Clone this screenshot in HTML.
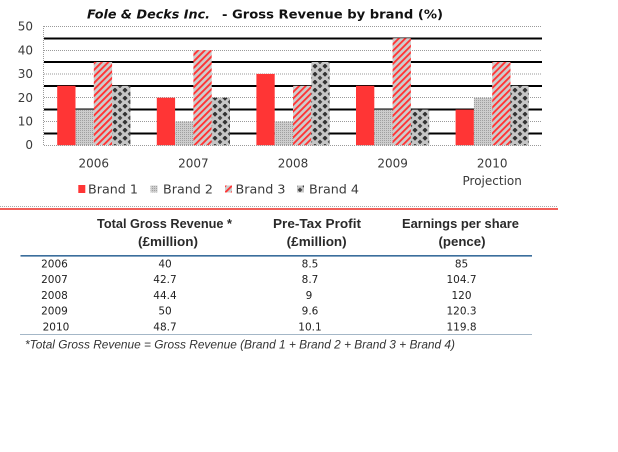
<!DOCTYPE html>
<html>
<head>
<meta charset="utf-8">
<style>
  html, body { margin:0; padding:0; background:#fff; }
  svg { display:block; }
  .tick { font-family:"DejaVu Sans","Liberation Sans",sans-serif; font-size:12px; fill:#3a3a3a; }
  .data { font-family:"DejaVu Sans","Liberation Sans",sans-serif; font-size:10.5px; fill:#222; }
  .hdr { font-family:"Liberation Sans",sans-serif; font-size:12.5px; font-weight:bold; fill:#2a2a2a; }
  .foot { font-family:"Liberation Sans",sans-serif; font-size:12px; font-style:italic; fill:#333; }
  .title { font-family:"DejaVu Sans","Liberation Sans",sans-serif; font-size:12px; font-weight:bold; fill:#111; }
</style>
</head>
<body>
<svg width="618" height="452" viewBox="0 0 618 452" xmlns="http://www.w3.org/2000/svg">
  <defs>
    <pattern id="p2" width="2" height="2" patternUnits="userSpaceOnUse">
      <rect width="2" height="2" fill="#cdcdcd"/>
      <rect width="1" height="1" fill="#a0a0a0"/>
    </pattern>
    <pattern id="p3" width="4.6" height="6" patternUnits="userSpaceOnUse" patternTransform="rotate(45)">
      <rect width="4.6" height="6" fill="#cdcdcd"/>
      <rect width="1.9" height="6" fill="#ff3535"/>
    </pattern>
    <pattern id="p4" width="10" height="8" patternUnits="userSpaceOnUse" x="1">
      <rect width="10" height="8" fill="#c6c6c6"/>
      <polygon points="4,-0.5 6.6,2.1 4,4.7 1.4,2.1" fill="#333"/>
      <polygon points="9,3.5 11.4,5.9 9,8.3 6.6,5.9" fill="#444"/>
      <polygon points="-1,3.5 1.4,5.9 -1,8.3 -3.4,5.9" fill="#444"/>
    </pattern>
  </defs>

  <!-- Title -->
  <text class="title" x="87" y="18.5" font-style="italic" textLength="123" lengthAdjust="spacingAndGlyphs">Fole &amp; Decks Inc.</text>
  <text class="title" x="222" y="18.5" textLength="221" lengthAdjust="spacingAndGlyphs">- Gross Revenue by brand (%)</text>

  <!-- thin dotted gridlines -->
  <g stroke="#9a9a9a" stroke-width="1" stroke-dasharray="1 1">
    <line x1="44" y1="26.5" x2="542" y2="26.5"/>
    <line x1="44" y1="50.5" x2="542" y2="50.5"/>
    <line x1="44" y1="74" x2="542" y2="74"/>
    <line x1="44" y1="97.5" x2="542" y2="97.5"/>
    <line x1="44" y1="121.5" x2="542" y2="121.5"/>
    <line x1="43.5" y1="26" x2="43.5" y2="146"/>
  </g>
  <!-- thick black gridlines -->
  <g stroke="#000" stroke-width="2">
    <line x1="44" y1="38.5" x2="542" y2="38.5"/>
    <line x1="44" y1="62" x2="542" y2="62"/>
    <line x1="44" y1="86" x2="542" y2="86"/>
    <line x1="44" y1="109.5" x2="542" y2="109.5"/>
    <line x1="44" y1="133.5" x2="542" y2="133.5"/>
  </g>

  <!-- Bars -->
  <rect x="57.2" y="85.8" width="18.3" height="59.5" fill="#ff3535"/>
  <rect x="75.5" y="109.6" width="18.3" height="35.7" fill="url(#p2)"/>
  <rect x="93.8" y="62" width="18.3" height="83.3" fill="url(#p3)"/>
  <rect x="112.1" y="85.8" width="18.3" height="59.5" fill="url(#p4)"/>

  <rect x="156.8" y="97.7" width="18.3" height="47.6" fill="#ff3535"/>
  <rect x="175.1" y="121.5" width="18.3" height="23.8" fill="url(#p2)"/>
  <rect x="193.4" y="50.1" width="18.3" height="95.2" fill="url(#p3)"/>
  <rect x="211.7" y="97.7" width="18.3" height="47.6" fill="url(#p4)"/>

  <rect x="256.4" y="73.9" width="18.3" height="71.4" fill="#ff3535"/>
  <rect x="274.7" y="121.5" width="18.3" height="23.8" fill="url(#p2)"/>
  <rect x="293" y="85.8" width="18.3" height="59.5" fill="url(#p3)"/>
  <rect x="311.3" y="62" width="18.3" height="83.3" fill="url(#p4)"/>

  <rect x="356" y="85.8" width="18.3" height="59.5" fill="#ff3535"/>
  <rect x="374.3" y="109.6" width="18.3" height="35.7" fill="url(#p2)"/>
  <rect x="392.6" y="38.2" width="18.3" height="107.1" fill="url(#p3)"/>
  <rect x="410.9" y="109.6" width="18.3" height="35.7" fill="url(#p4)"/>

  <rect x="455.6" y="109.6" width="18.3" height="35.7" fill="#ff3535"/>
  <rect x="473.9" y="97.7" width="18.3" height="47.6" fill="url(#p2)"/>
  <rect x="492.2" y="62" width="18.3" height="83.3" fill="url(#p3)"/>
  <rect x="510.5" y="85.8" width="18.3" height="59.5" fill="url(#p4)"/>

  <!-- baseline -->
  <line x1="44" y1="145.5" x2="542" y2="145.5" stroke="#9a9a9a" stroke-width="1" stroke-dasharray="1 1"/>

  <!-- Y tick labels -->
  <g class="tick" text-anchor="end">
    <text x="33" y="30.5">50</text>
    <text x="33" y="54.3">40</text>
    <text x="33" y="78.1">30</text>
    <text x="33" y="101.9">20</text>
    <text x="33" y="125.7">10</text>
    <text x="33" y="148.8">0</text>
  </g>
  <!-- X labels -->
  <g class="tick" text-anchor="middle">
    <text x="93.8" y="167.5">2006</text>
    <text x="193.4" y="167.5">2007</text>
    <text x="293" y="167.5">2008</text>
    <text x="392.6" y="167.5">2009</text>
    <text x="492.2" y="167.5">2010</text>
    <text x="492.2" y="185">Projection</text>
  </g>

  <!-- Legend -->
  <rect x="78.3" y="185" width="7" height="8" fill="#ff3535"/>
  <text class="tick" x="88" y="193.5" textLength="50" lengthAdjust="spacingAndGlyphs">Brand 1</text>
  <rect x="150.5" y="185.5" width="7" height="7" fill="url(#p2)"/>
  <text class="tick" x="163" y="193.5" textLength="50" lengthAdjust="spacingAndGlyphs">Brand 2</text>
  <rect x="225" y="185.5" width="7" height="7" fill="url(#p3)"/>
  <text class="tick" x="235.5" y="193.5" textLength="50" lengthAdjust="spacingAndGlyphs">Brand 3</text>
  <rect x="297" y="185.5" width="7" height="7" fill="url(#p4)"/>
  <text class="tick" x="309" y="193.5" textLength="50" lengthAdjust="spacingAndGlyphs">Brand 4</text>

  <!-- Separator -->
  <line x1="0" y1="206.5" x2="558" y2="206.5" stroke="#aaaaaa" stroke-width="1" stroke-dasharray="1 1"/>
  <line x1="0" y1="209" x2="558" y2="209" stroke="#f0605a" stroke-width="2"/>

  <!-- Table headers -->
  <g class="hdr" text-anchor="middle">
    <text x="164.5" y="228" textLength="135" lengthAdjust="spacingAndGlyphs">Total Gross Revenue *</text>
    <text x="168" y="246" textLength="60" lengthAdjust="spacingAndGlyphs">(£million)</text>
    <text x="317" y="228" textLength="88" lengthAdjust="spacingAndGlyphs">Pre-Tax Profit</text>
    <text x="316.7" y="246" textLength="60" lengthAdjust="spacingAndGlyphs">(£million)</text>
    <text x="460.5" y="228" textLength="117" lengthAdjust="spacingAndGlyphs">Earnings per share</text>
    <text x="462" y="246" textLength="47" lengthAdjust="spacingAndGlyphs">(pence)</text>
  </g>
  <line x1="20.5" y1="255.8" x2="532" y2="255.8" stroke="#3b6e9c" stroke-width="1.6"/>

  <!-- Table rows -->
  <g class="data" text-anchor="middle">
    <text x="54.5" y="267.5">2006</text>
    <text x="165" y="267.5">40</text>
    <text x="310" y="267.5">8.5</text>
    <text x="461.5" y="267.5">85</text>

    <text x="54.5" y="283.2">2007</text>
    <text x="165" y="283.2">42.7</text>
    <text x="310" y="283.2">8.7</text>
    <text x="461.5" y="283.2">104.7</text>

    <text x="54.5" y="298.9">2008</text>
    <text x="165" y="298.9">44.4</text>
    <text x="309" y="298.9">9</text>
    <text x="461.5" y="298.9">120</text>

    <text x="54.5" y="314.6">2009</text>
    <text x="165" y="314.6">50</text>
    <text x="310" y="314.6">9.6</text>
    <text x="461.5" y="314.6">120.3</text>

    <text x="56" y="330.5">2010</text>
    <text x="165" y="330.5">48.7</text>
    <text x="310" y="330.5">10.1</text>
    <text x="461.5" y="330.5">119.8</text>
  </g>
  <line x1="20.5" y1="334.5" x2="532" y2="334.5" stroke="#4a6f8f" stroke-width="1" stroke-dasharray="1 1"/>

  <!-- Footnote -->
  <text class="foot" x="25" y="348.5" textLength="430" lengthAdjust="spacingAndGlyphs">*Total Gross Revenue = Gross Revenue (Brand 1 + Brand 2 + Brand 3 + Brand 4)</text>
</svg>
</body>
</html>
